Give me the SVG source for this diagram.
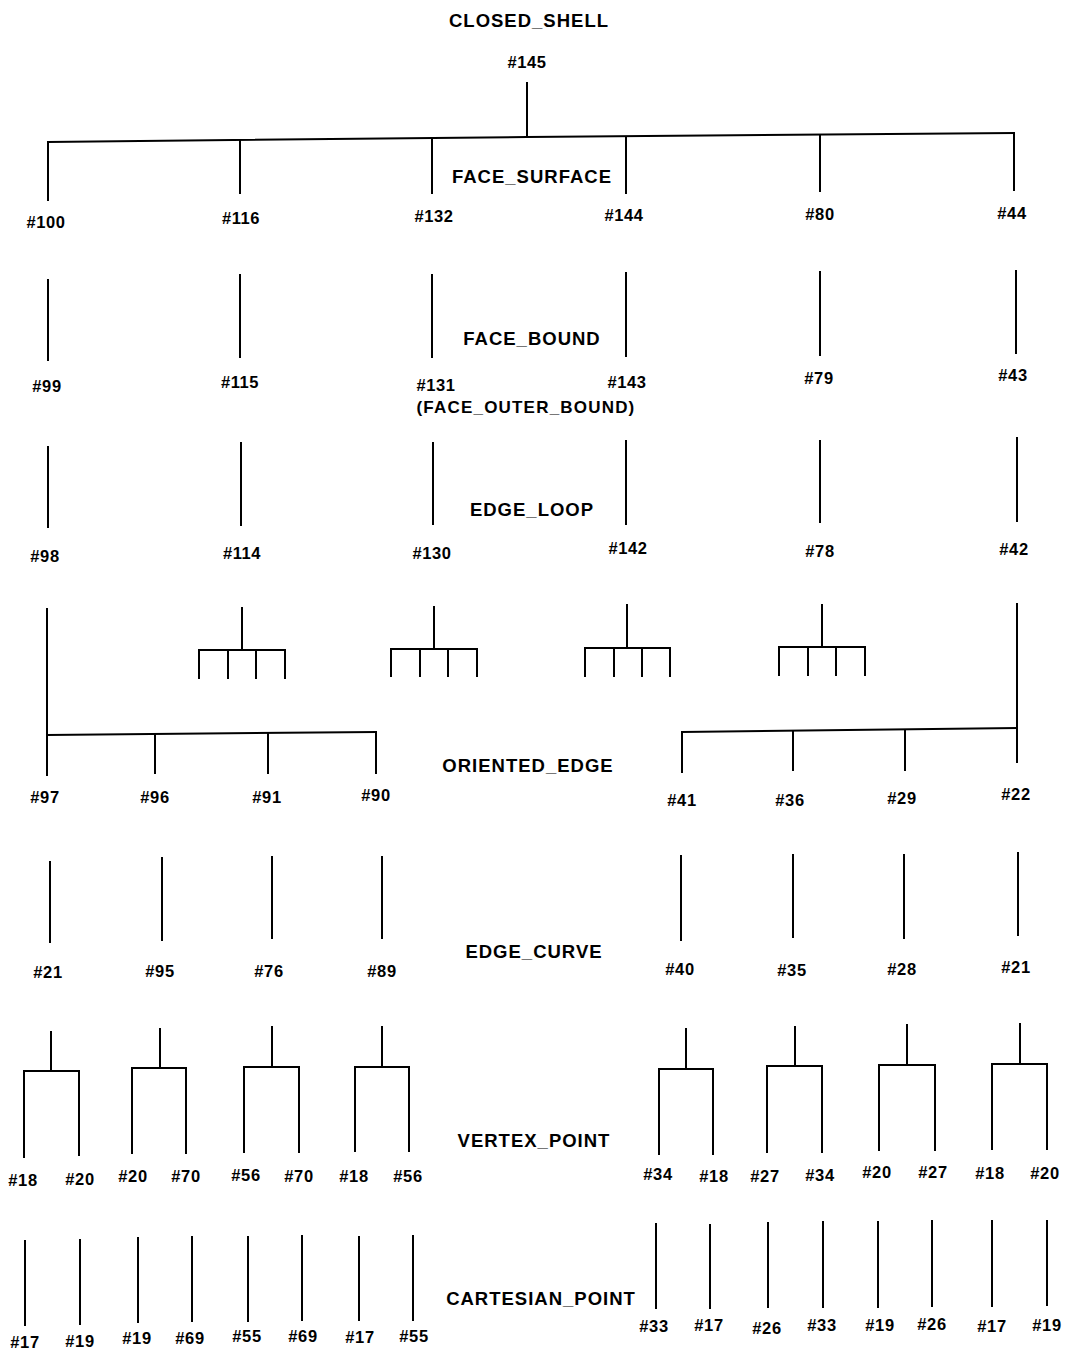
<svg xmlns="http://www.w3.org/2000/svg" width="1067" height="1353" viewBox="0 0 1067 1353">
<style>
.bg{fill:#fff}
.c line,.c polyline{stroke:#000;stroke-width:2;fill:none;stroke-linecap:square}
.n text{font-family:"Liberation Sans",Arial,sans-serif;font-weight:bold;font-size:16.5px;text-anchor:middle;fill:#000;letter-spacing:0.6px}
.n text.ob{font-size:17px;letter-spacing:1.2px}
.t text{font-family:"Liberation Sans",Arial,sans-serif;font-weight:bold;font-size:18.5px;text-anchor:middle;fill:#000;letter-spacing:1px}
</style>
<rect class="bg" x="0" y="0" width="1067" height="1353"/>
<g id="connectors" class="c">
<line x1="527" y1="83" x2="527" y2="136"/>
<polyline points="48,142 527,137 1014,133"/>
<line x1="48" y1="142" x2="48" y2="200"/>
<line x1="240" y1="140" x2="240" y2="193"/>
<line x1="432" y1="138" x2="432" y2="193"/>
<line x1="626" y1="137" x2="626" y2="193"/>
<line x1="820" y1="136" x2="820" y2="191"/>
<line x1="1014" y1="133" x2="1014" y2="190"/>
<line x1="48" y1="280" x2="48" y2="360"/>
<line x1="240" y1="275" x2="240" y2="357"/>
<line x1="432" y1="275" x2="432" y2="357"/>
<line x1="626" y1="273" x2="626" y2="356"/>
<line x1="820" y1="272" x2="820" y2="355"/>
<line x1="1016" y1="271" x2="1016" y2="353"/>
<line x1="48" y1="447" x2="48" y2="527"/>
<line x1="241" y1="443" x2="241" y2="525"/>
<line x1="433" y1="443" x2="433" y2="524"/>
<line x1="626" y1="441" x2="626" y2="524"/>
<line x1="820" y1="441" x2="820" y2="522"/>
<line x1="1017" y1="438" x2="1017" y2="521"/>
<line x1="47" y1="609" x2="47" y2="775"/>
<polyline points="47,735 376,732"/>
<line x1="155" y1="734" x2="155" y2="773"/>
<line x1="268" y1="733" x2="268" y2="773"/>
<line x1="376" y1="732" x2="376" y2="773"/>
<line x1="242" y1="608" x2="242" y2="650"/>
<line x1="199" y1="650" x2="285" y2="650"/>
<line x1="199" y1="650" x2="199" y2="678"/>
<line x1="228" y1="650" x2="228" y2="678"/>
<line x1="256" y1="650" x2="256" y2="678"/>
<line x1="285" y1="650" x2="285" y2="678"/>
<line x1="434" y1="607" x2="434" y2="649"/>
<line x1="391" y1="649" x2="477" y2="649"/>
<line x1="391" y1="649" x2="391" y2="676"/>
<line x1="420" y1="649" x2="420" y2="676"/>
<line x1="448" y1="649" x2="448" y2="676"/>
<line x1="477" y1="649" x2="477" y2="676"/>
<line x1="627" y1="605" x2="627" y2="648"/>
<line x1="585" y1="648" x2="670" y2="648"/>
<line x1="585" y1="648" x2="585" y2="676"/>
<line x1="614" y1="648" x2="614" y2="676"/>
<line x1="642" y1="648" x2="642" y2="676"/>
<line x1="670" y1="648" x2="670" y2="676"/>
<line x1="822" y1="605" x2="822" y2="647"/>
<line x1="779" y1="647" x2="865" y2="647"/>
<line x1="779" y1="647" x2="779" y2="675"/>
<line x1="808" y1="647" x2="808" y2="675"/>
<line x1="836" y1="647" x2="836" y2="675"/>
<line x1="865" y1="647" x2="865" y2="675"/>
<line x1="1017" y1="604" x2="1017" y2="762"/>
<polyline points="682,732 1017,728"/>
<line x1="682" y1="732" x2="682" y2="772"/>
<line x1="793" y1="731" x2="793" y2="770"/>
<line x1="905" y1="730" x2="905" y2="770"/>
<line x1="50" y1="862" x2="50" y2="942"/>
<line x1="162" y1="858" x2="162" y2="940"/>
<line x1="272" y1="857" x2="272" y2="938"/>
<line x1="382" y1="857" x2="382" y2="938"/>
<line x1="681" y1="856" x2="681" y2="940"/>
<line x1="793" y1="855" x2="793" y2="937"/>
<line x1="904" y1="855" x2="904" y2="938"/>
<line x1="1018" y1="853" x2="1018" y2="935"/>
<line x1="51" y1="1032" x2="51" y2="1071"/>
<polyline points="24,1157 24,1071 79,1071 79,1155"/>
<line x1="160" y1="1029" x2="160" y2="1068"/>
<polyline points="132,1153 132,1068 186,1068 186,1153"/>
<line x1="272" y1="1027" x2="272" y2="1067"/>
<polyline points="244,1152 244,1067 299,1067 299,1152"/>
<line x1="382" y1="1027" x2="382" y2="1067"/>
<polyline points="355,1151 355,1067 409,1067 409,1151"/>
<line x1="686" y1="1029" x2="686" y2="1069"/>
<polyline points="659,1154 659,1069 713,1069 713,1154"/>
<line x1="795" y1="1027" x2="795" y2="1066"/>
<polyline points="767,1152 767,1066 822,1066 822,1152"/>
<line x1="907" y1="1025" x2="907" y2="1065"/>
<polyline points="879,1150 879,1065 935,1065 935,1150"/>
<line x1="1020" y1="1024" x2="1020" y2="1064"/>
<polyline points="992,1149 992,1064 1047,1064 1047,1149"/>
<line x1="25" y1="1241" x2="25" y2="1325"/>
<line x1="80" y1="1240" x2="80" y2="1324"/>
<line x1="138" y1="1238" x2="138" y2="1322"/>
<line x1="192" y1="1237" x2="192" y2="1321"/>
<line x1="248" y1="1237" x2="248" y2="1321"/>
<line x1="302" y1="1236" x2="302" y2="1320"/>
<line x1="359" y1="1237" x2="359" y2="1320"/>
<line x1="413" y1="1236" x2="413" y2="1320"/>
<line x1="656" y1="1224" x2="656" y2="1308"/>
<line x1="710" y1="1225" x2="710" y2="1308"/>
<line x1="768" y1="1223" x2="768" y2="1307"/>
<line x1="823" y1="1222" x2="823" y2="1307"/>
<line x1="878" y1="1222" x2="878" y2="1307"/>
<line x1="932" y1="1221" x2="932" y2="1306"/>
<line x1="992" y1="1221" x2="992" y2="1306"/>
<line x1="1047" y1="1221" x2="1047" y2="1305"/>
</g>
<g id="types" class="t">
<text x="529" y="27">CLOSED_SHELL</text>
<text x="532" y="183">FACE_SURFACE</text>
<text x="532" y="345">FACE_BOUND</text>
<text x="532" y="516">EDGE_LOOP</text>
<text x="528" y="772">ORIENTED_EDGE</text>
<text x="534" y="958">EDGE_CURVE</text>
<text x="534" y="1147">VERTEX_POINT</text>
<text x="541" y="1305">CARTESIAN_POINT</text>
</g>
<g class="n">
<g id="n145"><text x="527" y="68">#145</text></g>
<g id="n100"><text x="46" y="228">#100</text></g>
<g id="n116"><text x="241" y="224">#116</text></g>
<g id="n132"><text x="434" y="222">#132</text></g>
<g id="n144"><text x="624" y="221">#144</text></g>
<g id="n80"><text x="820" y="220">#80</text></g>
<g id="n44"><text x="1012" y="219">#44</text></g>
<g id="n99"><text x="47" y="392">#99</text></g>
<g id="n115"><text x="240" y="388">#115</text></g>
<g id="n131"><text x="436" y="391">#131</text><text class="ob" x="526" y="413">(FACE_OUTER_BOUND)</text></g>
<g id="n143"><text x="627" y="388">#143</text></g>
<g id="n79"><text x="819" y="384">#79</text></g>
<g id="n43"><text x="1013" y="381">#43</text></g>
<g id="n98"><text x="45" y="562">#98</text></g>
<g id="n114"><text x="242" y="559">#114</text></g>
<g id="n130"><text x="432" y="559">#130</text></g>
<g id="n142"><text x="628" y="554">#142</text></g>
<g id="n78"><text x="820" y="557">#78</text></g>
<g id="n42"><text x="1014" y="555">#42</text></g>
<g id="n97"><text x="45" y="803">#97</text></g>
<g id="n96"><text x="155" y="803">#96</text></g>
<g id="n91"><text x="267" y="803">#91</text></g>
<g id="n90"><text x="376" y="801">#90</text></g>
<g id="n41"><text x="682" y="806">#41</text></g>
<g id="n36"><text x="790" y="806">#36</text></g>
<g id="n29"><text x="902" y="804">#29</text></g>
<g id="n22"><text x="1016" y="800">#22</text></g>
<g id="n21a"><text x="48" y="978">#21</text></g>
<g id="n95"><text x="160" y="977">#95</text></g>
<g id="n76"><text x="269" y="977">#76</text></g>
<g id="n89"><text x="382" y="977">#89</text></g>
<g id="n40"><text x="680" y="975">#40</text></g>
<g id="n35"><text x="792" y="976">#35</text></g>
<g id="n28"><text x="902" y="975">#28</text></g>
<g id="n21b"><text x="1016" y="973">#21</text></g>
<g id="v1a"><text x="23" y="1186">#18</text></g>
<g id="v1b"><text x="80" y="1185">#20</text></g>
<g id="v2a"><text x="133" y="1182">#20</text></g>
<g id="v2b"><text x="186" y="1182">#70</text></g>
<g id="v3a"><text x="246" y="1181">#56</text></g>
<g id="v3b"><text x="299" y="1182">#70</text></g>
<g id="v4a"><text x="354" y="1182">#18</text></g>
<g id="v4b"><text x="408" y="1182">#56</text></g>
<g id="v5a"><text x="658" y="1180">#34</text></g>
<g id="v5b"><text x="714" y="1182">#18</text></g>
<g id="v6a"><text x="765" y="1182">#27</text></g>
<g id="v6b"><text x="820" y="1181">#34</text></g>
<g id="v7a"><text x="877" y="1178">#20</text></g>
<g id="v7b"><text x="933" y="1178">#27</text></g>
<g id="v8a"><text x="990" y="1179">#18</text></g>
<g id="v8b"><text x="1045" y="1179">#20</text></g>
<g id="p1"><text x="25" y="1348">#17</text></g>
<g id="p2"><text x="80" y="1347">#19</text></g>
<g id="p3"><text x="137" y="1344">#19</text></g>
<g id="p4"><text x="190" y="1344">#69</text></g>
<g id="p5"><text x="247" y="1342">#55</text></g>
<g id="p6"><text x="303" y="1342">#69</text></g>
<g id="p7"><text x="360" y="1343">#17</text></g>
<g id="p8"><text x="414" y="1342">#55</text></g>
<g id="p9"><text x="654" y="1332">#33</text></g>
<g id="p10"><text x="709" y="1331">#17</text></g>
<g id="p11"><text x="767" y="1334">#26</text></g>
<g id="p12"><text x="822" y="1331">#33</text></g>
<g id="p13"><text x="880" y="1331">#19</text></g>
<g id="p14"><text x="932" y="1330">#26</text></g>
<g id="p15"><text x="992" y="1332">#17</text></g>
<g id="p16"><text x="1047" y="1331">#19</text></g>
</g>
</svg>
